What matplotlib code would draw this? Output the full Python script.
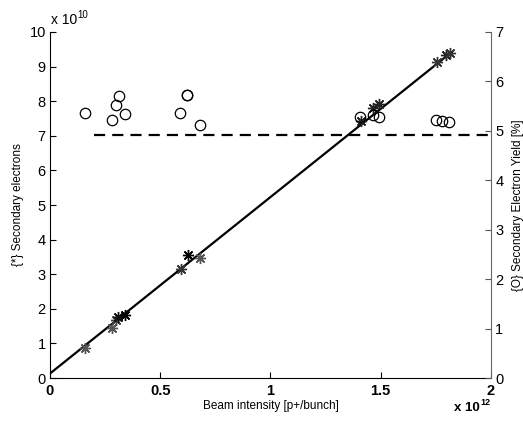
import matplotlib
matplotlib.use("Agg")
import matplotlib.pyplot as plt
import numpy as np

plt.rcParams['font.family'] = ['Liberation Sans', 'DejaVu Sans']

# Beam intensity (x 1e12 p+/bunch)
star_x = [0.161, 0.283, 0.298, 0.310, 0.339, 0.592, 0.624, 0.680, 1.410, 1.467, 1.490, 1.753, 1.797, 1.815]
# Secondary electrons (x 1e10)
star_y = [0.88, 1.45, 1.68, 1.77, 1.82, 3.14, 3.55, 3.48, 7.43, 7.79, 7.92, 9.12, 9.33, 9.38]
star_col = ['#555555', '#555555', '#444444', '#111111', '#000000', '#333333', '#000000', '#555555',
            '#222222', '#222222', '#222222', '#333333', '#222222', '#333333']

circ_x = [0.160, 0.281, 0.299, 0.311, 0.340, 0.589, 0.620, 0.620, 0.681, 1.407, 1.466, 1.490, 1.750, 1.780, 1.810]
# Secondary electron yield [%]
circ_y = [5.37, 5.21, 5.52, 5.71, 5.34, 5.36, 5.73, 5.72, 5.11, 5.29, 5.32, 5.29, 5.21, 5.19, 5.18]

fit_x = [0.0, 1.815]
fit_intercept = 0.13
fit_slope = 5.10

mean_yield = 4.92
mean_x = [0.2, 2.0]

fig = plt.figure(figsize=(5.23, 4.21), dpi=100)
ax = fig.add_axes([0.0956, 0.1021, 0.8432, 0.8219])
ax2 = ax.twinx()

fx = np.array(fit_x)
ax.plot(fx, fit_intercept + fit_slope * fx, color='black', lw=1.6, zorder=2)
for x, y, c in zip(star_x, star_y, star_col):
    ax.plot([x], [y], linestyle='none', marker=(8, 2, 0), markersize=8,
            markeredgecolor=c, markeredgewidth=1.0, zorder=3)

ax2.plot(circ_x, circ_y, linestyle='none', marker='o', markersize=7.5,
         markerfacecolor='none', markeredgecolor='black', markeredgewidth=0.9)
ax2.plot(mean_x, [mean_yield, mean_yield], color='black', lw=1.6, linestyle=(0, (5, 3.2)))

ax.set_xlim(0, 2)
ax.set_ylim(0, 10)
ax2.set_ylim(0, 7)

ax.set_xticks([0, 0.5, 1, 1.5, 2])
ax.set_xticklabels(['0', '0.5', '1', '1.5', '2'], fontweight='bold')
ax.set_yticks(range(0, 11))
ax2.set_yticks(range(0, 8))

ax.tick_params(axis='both', direction='in', length=4, width=0.8, labelsize=10.5, pad=3)
ax.tick_params(axis='x', pad=4)
ax2.tick_params(axis='y', direction='in', length=4, width=0.8, labelsize=10.5, colors='#555555',
                labelcolor='black', pad=3)

for s in ['top']:
    ax.spines[s].set_visible(False)
    ax2.spines[s].set_visible(False)
ax2.spines['right'].set_color('#666666')
ax2.spines['left'].set_visible(False)
ax2.spines['bottom'].set_visible(False)
ax.spines['right'].set_visible(False)

ax.set_xlabel('Beam intensity [p+/bunch]', fontsize=8.5, labelpad=2)
ax.set_ylabel('{*} Secondary electrons', fontsize=8.5, labelpad=4)
ax2.set_ylabel('{O} Secondary Electron Yield [%]', fontsize=8.5, labelpad=6)

fig.text(0.098, 0.942, 'x 10', fontsize=10, ha='left', va='baseline')
fig.text(0.1475, 0.958, '10', fontsize=7, ha='left', va='baseline')
fig.text(0.918, 0.024, 'x 10', fontsize=9.5, ha='right', va='baseline', fontweight='bold')
fig.text(0.919, 0.037, '12', fontsize=6.5, ha='left', va='baseline', fontweight='bold')

fig.savefig('out.png', dpi=100)
